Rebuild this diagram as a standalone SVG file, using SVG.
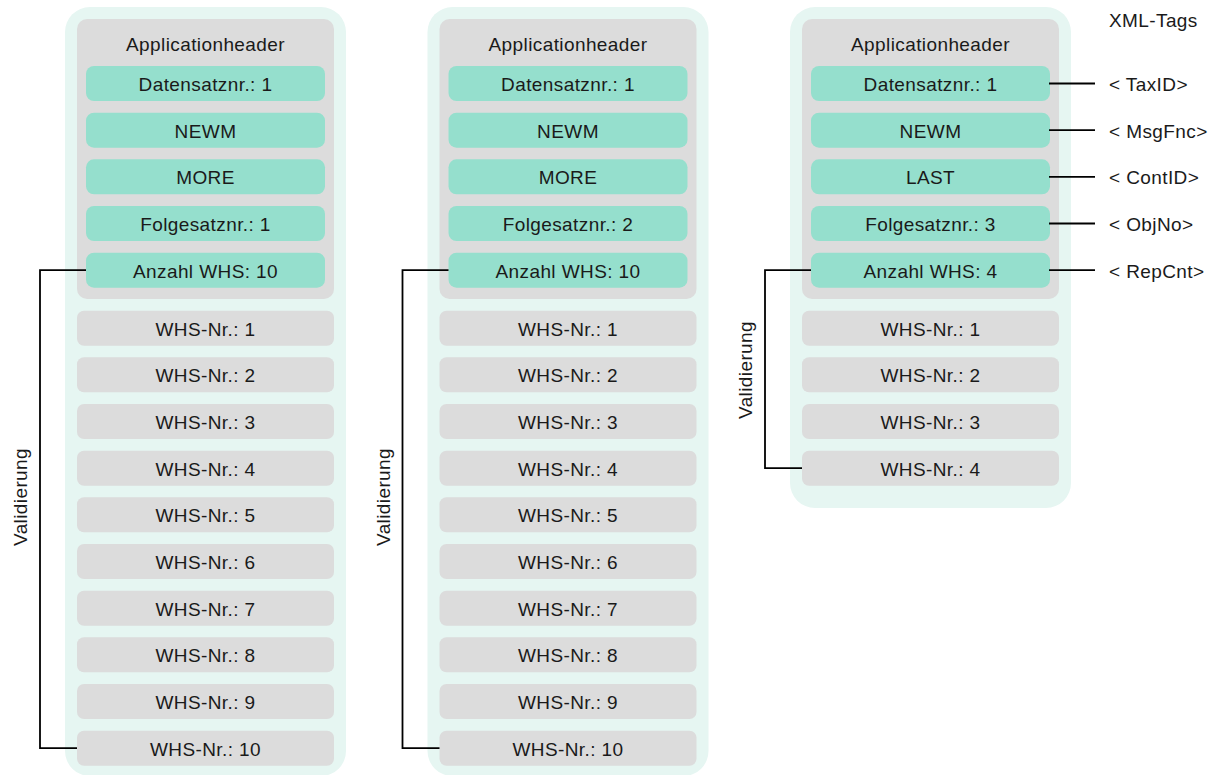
<svg xmlns="http://www.w3.org/2000/svg" width="1224" height="775" viewBox="0 0 1224 775">
<style>
.outer{fill:#e6f6f2}
.hdr{fill:#dcdcdc}
.g{fill:#95dfcd}
.w{fill:#dcdcdc}
text{font-family:"Liberation Sans",Arial,sans-serif;font-size:19px;fill:#1a1a1a;letter-spacing:0.4px}
.c{text-anchor:middle}
.ln{stroke:#000;stroke-width:1.8;fill:none}
</style>
<rect width="1224" height="775" fill="#fff"/>
<g id="col1">
<rect class="outer" x="65" y="7" width="281" height="769" rx="25"/>
<rect class="hdr" x="77" y="19" width="257" height="280" rx="10"/>
<text class="c" x="205.5" y="51">Applicationheader</text>
<rect class="g" x="86" y="66" width="239" height="35" rx="8"/><text class="c" x="205.5" y="91">Datensatznr.: 1</text>
<rect class="g" x="86" y="112.7" width="239" height="35" rx="8"/><text class="c" x="205.5" y="137.7">NEWM</text>
<rect class="g" x="86" y="159.3" width="239" height="35" rx="8"/><text class="c" x="205.5" y="184.3">MORE</text>
<rect class="g" x="86" y="206" width="239" height="35" rx="8"/><text class="c" x="205.5" y="231">Folgesatznr.: 1</text>
<rect class="g" x="86" y="252.7" width="239" height="35" rx="8"/><text class="c" x="205.5" y="277.7">Anzahl WHS: 10</text>
<rect class="w" x="77" y="310.7" width="257" height="35" rx="7"/><text class="c" x="205.5" y="335.7">WHS-Nr.: 1</text>
<rect class="w" x="77" y="357.3" width="257" height="35" rx="7"/><text class="c" x="205.5" y="382.3">WHS-Nr.: 2</text>
<rect class="w" x="77" y="404" width="257" height="35" rx="7"/><text class="c" x="205.5" y="429">WHS-Nr.: 3</text>
<rect class="w" x="77" y="450.7" width="257" height="35" rx="7"/><text class="c" x="205.5" y="475.7">WHS-Nr.: 4</text>
<rect class="w" x="77" y="497.3" width="257" height="35" rx="7"/><text class="c" x="205.5" y="522.3">WHS-Nr.: 5</text>
<rect class="w" x="77" y="544" width="257" height="35" rx="7"/><text class="c" x="205.5" y="569">WHS-Nr.: 6</text>
<rect class="w" x="77" y="590.7" width="257" height="35" rx="7"/><text class="c" x="205.5" y="615.7">WHS-Nr.: 7</text>
<rect class="w" x="77" y="637.3" width="257" height="35" rx="7"/><text class="c" x="205.5" y="662.3">WHS-Nr.: 8</text>
<rect class="w" x="77" y="684" width="257" height="35" rx="7"/><text class="c" x="205.5" y="709">WHS-Nr.: 9</text>
<rect class="w" x="77" y="730.7" width="257" height="35" rx="7"/><text class="c" x="205.5" y="755.7">WHS-Nr.: 10</text>
</g>
<g id="col2" transform="translate(362.5,0)">
<rect class="outer" x="65" y="7" width="281" height="769" rx="25"/>
<rect class="hdr" x="77" y="19" width="257" height="280" rx="10"/>
<text class="c" x="205.5" y="51">Applicationheader</text>
<rect class="g" x="86" y="66" width="239" height="35" rx="8"/><text class="c" x="205.5" y="91">Datensatznr.: 1</text>
<rect class="g" x="86" y="112.7" width="239" height="35" rx="8"/><text class="c" x="205.5" y="137.7">NEWM</text>
<rect class="g" x="86" y="159.3" width="239" height="35" rx="8"/><text class="c" x="205.5" y="184.3">MORE</text>
<rect class="g" x="86" y="206" width="239" height="35" rx="8"/><text class="c" x="205.5" y="231">Folgesatznr.: 2</text>
<rect class="g" x="86" y="252.7" width="239" height="35" rx="8"/><text class="c" x="205.5" y="277.7">Anzahl WHS: 10</text>
<rect class="w" x="77" y="310.7" width="257" height="35" rx="7"/><text class="c" x="205.5" y="335.7">WHS-Nr.: 1</text>
<rect class="w" x="77" y="357.3" width="257" height="35" rx="7"/><text class="c" x="205.5" y="382.3">WHS-Nr.: 2</text>
<rect class="w" x="77" y="404" width="257" height="35" rx="7"/><text class="c" x="205.5" y="429">WHS-Nr.: 3</text>
<rect class="w" x="77" y="450.7" width="257" height="35" rx="7"/><text class="c" x="205.5" y="475.7">WHS-Nr.: 4</text>
<rect class="w" x="77" y="497.3" width="257" height="35" rx="7"/><text class="c" x="205.5" y="522.3">WHS-Nr.: 5</text>
<rect class="w" x="77" y="544" width="257" height="35" rx="7"/><text class="c" x="205.5" y="569">WHS-Nr.: 6</text>
<rect class="w" x="77" y="590.7" width="257" height="35" rx="7"/><text class="c" x="205.5" y="615.7">WHS-Nr.: 7</text>
<rect class="w" x="77" y="637.3" width="257" height="35" rx="7"/><text class="c" x="205.5" y="662.3">WHS-Nr.: 8</text>
<rect class="w" x="77" y="684" width="257" height="35" rx="7"/><text class="c" x="205.5" y="709">WHS-Nr.: 9</text>
<rect class="w" x="77" y="730.7" width="257" height="35" rx="7"/><text class="c" x="205.5" y="755.7">WHS-Nr.: 10</text>
</g>
<g id="col3" transform="translate(725,0)">
<rect class="outer" x="65" y="7" width="281" height="501" rx="25"/>
<rect class="hdr" x="77" y="19" width="257" height="280" rx="10"/>
<text class="c" x="205.5" y="51">Applicationheader</text>
<rect class="g" x="86" y="66" width="239" height="35" rx="8"/><text class="c" x="205.5" y="91">Datensatznr.: 1</text>
<rect class="g" x="86" y="112.7" width="239" height="35" rx="8"/><text class="c" x="205.5" y="137.7">NEWM</text>
<rect class="g" x="86" y="159.3" width="239" height="35" rx="8"/><text class="c" x="205.5" y="184.3">LAST</text>
<rect class="g" x="86" y="206" width="239" height="35" rx="8"/><text class="c" x="205.5" y="231">Folgesatznr.: 3</text>
<rect class="g" x="86" y="252.7" width="239" height="35" rx="8"/><text class="c" x="205.5" y="277.7">Anzahl WHS: 4</text>
<rect class="w" x="77" y="310.7" width="257" height="35" rx="7"/><text class="c" x="205.5" y="335.7">WHS-Nr.: 1</text>
<rect class="w" x="77" y="357.3" width="257" height="35" rx="7"/><text class="c" x="205.5" y="382.3">WHS-Nr.: 2</text>
<rect class="w" x="77" y="404" width="257" height="35" rx="7"/><text class="c" x="205.5" y="429">WHS-Nr.: 3</text>
<rect class="w" x="77" y="450.7" width="257" height="35" rx="7"/><text class="c" x="205.5" y="475.7">WHS-Nr.: 4</text>
</g>
<g id="tags">
<text x="1109" y="27">XML-Tags</text>
<text x="1109" y="91">&lt; TaxID&gt;</text>
<text x="1109" y="137.7">&lt; MsgFnc&gt;</text>
<text x="1109" y="184.3">&lt; ContID&gt;</text>
<text x="1109" y="231">&lt; ObjNo&gt;</text>
<text x="1109" y="277.7">&lt; RepCnt&gt;</text>
</g>
<g id="connectors">
<path class="ln" d="M86,270.2 H40 V748.2 H77"/>
<path class="ln" d="M448.5,270.2 H402.5 V748.2 H439.5"/>
<path class="ln" d="M811,270.2 H765 V468.2 H802"/>
<path class="ln" d="M1049,83.5 H1095 M1049,130.2 H1095 M1049,176.8 H1095 M1049,223.5 H1095 M1049,270.2 H1095"/>
<text class="c" transform="translate(27,497) rotate(-90)">Validierung</text>
<text class="c" transform="translate(389.5,497) rotate(-90)">Validierung</text>
<text class="c" transform="translate(752,370) rotate(-90)">Validierung</text>
</g>
</svg>
